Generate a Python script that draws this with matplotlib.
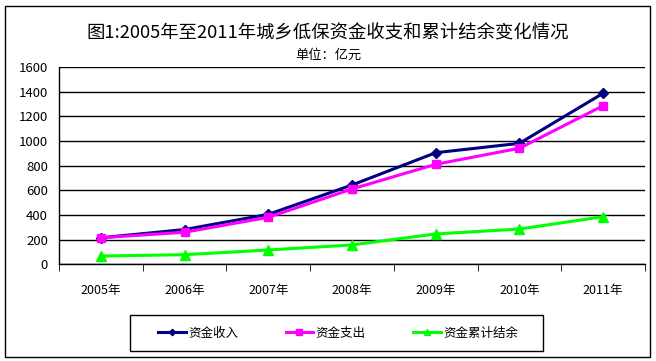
import numpy as np
import matplotlib.pyplot as plt
from matplotlib.patches import Rectangle

plt.rcParams['font.family'] = ['Noto Sans CJK SC', 'DejaVu Sans']

years = ['2005年', '2006年', '2007年', '2008年', '2009年', '2010年', '2011年']
income = [215, 282, 405, 643, 905, 981, 1387]
expend = [215, 260, 381, 611, 811, 941, 1286]
balance = [67, 78, 116, 157, 246, 286, 386]

fig = plt.figure(figsize=(6.56, 3.61), dpi=100, facecolor='w')
ax = fig.add_axes([59/656, 96.7/361, 586/656, 197.3/361])

x = np.arange(len(years))
ax.plot(x, income, '-D', c='#000080', lw=2.2, markersize=5, label='资金收入')
ax.plot(x, expend, '-s', c='#FF00FF', lw=2.2, markersize=6, label='资金支出')
ax.plot(x, balance, '-^', c='#00FF00', lw=2.2, markersize=7, label='资金累计结余')

ax.set_xlim(-0.5, 6.5)
ax.set_ylim(0, 1600)
ax.set_yticks(range(0, 1601, 200))
ax.set_xticks(x)
ax.set_xticklabels(years, fontsize=9)
ax.set_xticks(np.arange(-0.5, 7, 1), minor=True)
ax.tick_params(axis='x', which='major', length=0, pad=14)
ax.tick_params(axis='x', which='minor', length=5, direction='out', color='k')
ax.tick_params(axis='y', length=0, labelsize=9.5, pad=8)
ax.grid(True, axis='y', color='k', lw=1)
ax.set_axisbelow(True)
for s in ['top', 'right']:
    ax.spines[s].set_visible(False)
for s in ['left', 'bottom']:
    ax.spines[s].set_color('k')
    ax.spines[s].set_linewidth(1)

fig.text(0.5, 1 - 33/361, '图1:2005年至2011年城乡低保资金收支和累计结余变化情况',
         ha='center', va='center', fontsize=13.2)
fig.text(0.5, 1 - 55/361, '单位：亿元', ha='center', va='center', fontsize=9.5)

# legend without frame, box drawn by hand
leg = fig.legend(loc='center', bbox_to_anchor=(338/656, 1 - 333/361), ncol=3,
                 fontsize=9, frameon=False, handlelength=2.2, handletextpad=0.2,
                 columnspacing=3.8, markerscale=0.65)
fig.patches.append(Rectangle((130/656, 1 - 351/361), 413/656, 36/361, transform=fig.transFigure,
                             fill=False, edgecolor='k', lw=1))

# outer border
fig.patches.append(Rectangle((5/656, 4/361), 645/656, 351/361, transform=fig.transFigure,
                             fill=False, edgecolor='k', lw=1))

plt.savefig('out.png', dpi=100)
